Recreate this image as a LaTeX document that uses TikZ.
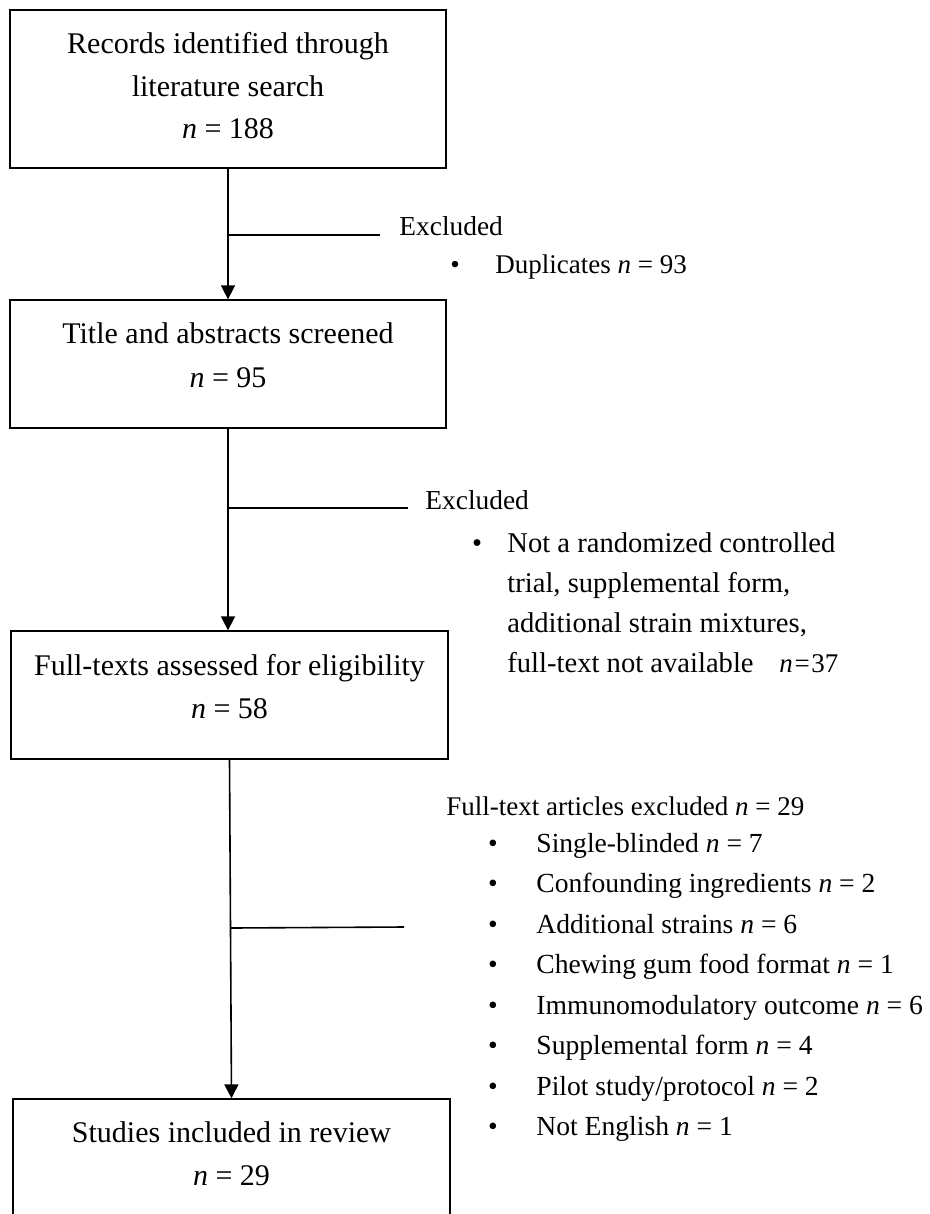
\documentclass[tikz,border=0pt]{standalone}
\usepackage{fontspec}
\setmainfont{Liberation Serif}
\usetikzlibrary{arrows.meta,calc}
\begin{document}
\begin{tikzpicture}[x=0.5pt,y=-0.5pt,
  box/.style={draw, line width=0.65pt, inner sep=0pt, minimum width=#1},
  conn/.style={line width=0.8pt},
  arr/.style={conn, -{Triangle[width=7pt,length=7pt]}},
  txt/.style={anchor=base, inner sep=0pt, font=\fontsize{#1}{18}\selectfont},
  txt/.default=15,
  ltxt/.style={anchor=base west, inner sep=0pt, font=\fontsize{#1}{18}\selectfont},
  ltxt/.default=15]
\useasboundingbox (0,0) rectangle (930,1214);
\clip (0,0) rectangle (930,1214);
% boxes
\node[box=218pt, minimum height=79pt] (b1) at (228,89) {};
\node[box=218pt, minimum height=64pt] (b2) at (228,364) {};
\node[box=218.5pt, minimum height=64pt] (b3) at (229.5,695) {};
\node[box=218.5pt, minimum height=100pt] (b4) at (231.5,1199) {};
% box texts
\node[txt] (t1a) at (228,54) {Records identified through};
\node[txt] (t1b) at (228,97) {literature search};
\node[txt] (t1c) at (228,139) {\textit{n} = 188};
\node[txt] (t2a) at (228,343) {Title and abstracts screened};
\node[txt] (t2b) at (228,387) {\textit{n} = 95};
\node[txt] (t3a) at (229.5,675) {Full-texts assessed for eligibility};
\node[txt] (t3b) at (229.5,718) {\textit{n} = 58};
\node[txt] (t4a) at (231.5,1142) {Studies included in review};
\node[txt] (t4b) at (231.5,1185) {\textit{n} = 29};
% arrows
\draw[arr] (b1.south) -- (b2.north);
\draw[arr] (b2.south) -- (b2.south |- b3.north);
\draw[arr] (b3.south) -- (b4.north);
% branches
\coordinate (e1) at (380,235);
\coordinate (e2) at (408,508);
\coordinate (e3) at (404,927);
\draw[conn] (b1.south |- e1) -- (e1);
\draw[conn] (b2.south |- e2) -- (e2);
\draw[conn] ($(b3.south)!(e3)!(b4.north)$) -- (e3);
% exclusion 1
\node[ltxt=13.7] (x1) at (399,235) {Excluded};
\node[txt=13.5] (x1b) at (455,273) {\textbullet};
\node[ltxt=13.5] (x1t) at (495,273) {Duplicates \textit{n} = 93};
% exclusion 2
\node[ltxt=13.7] (x2) at (425,509) {Excluded};
\node[txt=14.3] (x2b) at (477,552) {\textbullet};
\node[ltxt=14.3] (x2t1) at (507,552) {Not a randomized controlled};
\node[ltxt=14.3] (x2t2) at (507,592) {trial, supplemental form,};
\node[ltxt=14.3] (x2t3) at (507,632) {additional strain mixtures,};
\node[ltxt=14.3] (x2t4) at (507,672) {full-text not available};
\node[ltxt=13.5] (x2n) at (779,672) {\textit{n}\hspace{0.06em}=\hspace{0.06em}37};
% exclusion 3
\node[ltxt=13.5] (x3) at (446,815) {Full-text articles excluded \textit{n} = 29};
\foreach \yy/\lbltext [count=\i] in {852/{Single-blinded \textit{n} = 7},
  892/{Confounding ingredients \textit{n} = 2},
  933/{Additional strains \textit{n} = 6},
  973/{Chewing gum food format \textit{n} = 1},
  1014/{Immunomodulatory outcome \textit{n} = 6},
  1054/{Supplemental form \textit{n} = 4},
  1095/{Pilot study/protocol \textit{n} = 2},
  1135/{Not English \textit{n} = 1}}{
  \node[txt=13.8] (x3b\i) at (493,\yy) {\textbullet};
  \node[ltxt=13.8] (x3t\i) at (536,\yy) {\lbltext};
}
\end{tikzpicture}
\end{document}
